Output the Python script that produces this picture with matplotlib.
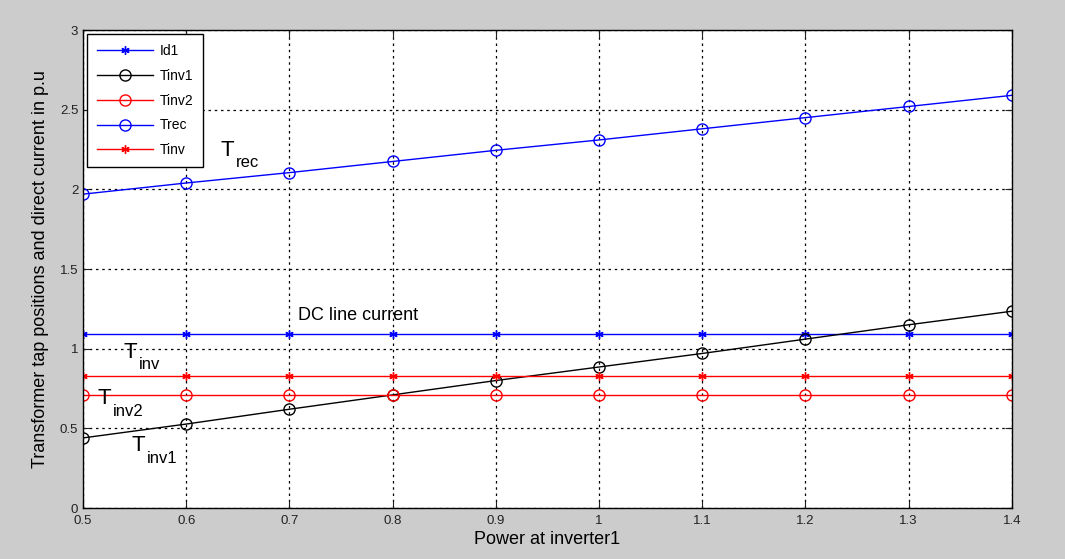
import matplotlib
matplotlib.use("Agg")
import matplotlib.pyplot as plt

power = [0.5, 0.6, 0.7, 0.8, 0.9, 1.0, 1.1, 1.2, 1.3, 1.4]
id1 = [1.09] * 10
tinv1 = [0.44, 0.527, 0.62, 0.71, 0.80, 0.885, 0.97, 1.06, 1.15, 1.235]
tinv2 = [0.71] * 10
trec = [1.97, 2.04, 2.105, 2.175, 2.245, 2.31, 2.38, 2.45, 2.52, 2.59]
tinv = [0.83] * 10

xticks = [0.5, 0.6, 0.7, 0.8, 0.9, 1.0, 1.1, 1.2, 1.3, 1.4]
xticklabels = ["0.5", "0.6", "0.7", "0.8", "0.9", "1", "1.1", "1.2", "1.3", "1.4"]
yticks = [0, 0.5, 1, 1.5, 2, 2.5, 3]
yticklabels = ["0", "0.5", "1", "1.5", "2", "2.5", "3"]

plt.rcParams['font.family'] = ['Liberation Sans', 'DejaVu Sans']

fig = plt.figure(figsize=(10.65, 5.59), dpi=100, facecolor='#cccccc')
ax = fig.add_axes([0.078, 0.0912, 0.872, 0.8551])
ax.set_facecolor('white')

blue = '#0000ff'
red = '#ff0000'
ms = 8
ast = (6, 2, 0)
ax.plot(power, id1, color=blue, marker=ast, markersize=6, lw=1, label='Id1')
ax.plot(power, tinv1, color='black', marker='o', markersize=ms, mfc='none', lw=1, label='Tinv1')
ax.plot(power, tinv2, color=red, marker='o', markersize=ms, mfc='none', lw=1, label='Tinv2')
ax.plot(power, trec, color=blue, marker='o', markersize=ms, mfc='none', lw=1, label='Trec')
ax.plot(power, tinv, color=red, marker=ast, markersize=6, lw=1, label='Tinv')

ax.set_xlim(0.5, 1.4)
ax.set_ylim(0, 3)
ax.set_xticks(xticks)
ax.set_xticklabels(xticklabels)
ax.set_yticks(yticks)
ax.set_yticklabels(yticklabels)
ax.tick_params(direction='in', labelsize=9.5, top=True, right=True, length=5, colors='#222222')
ax.tick_params(axis='x', pad=5)
ax.grid(True, linestyle=(0, (2, 3)), color='black', lw=0.9)
for s in ax.spines.values():
    s.set_linewidth(1)

ax.set_xlabel('Power at inverter1', fontsize=13, labelpad=3)
ax.set_ylabel('Transformer tap positions and direct current in p.u', fontsize=13, labelpad=8)


def sublabel(x, y, sub):
    ax.text(x, y, 'T', fontsize=16, va='baseline', ha='left')
    ax.annotate(sub, xy=(x, y), xytext=(11, -8), textcoords='offset points',
                fontsize=12, va='baseline', ha='left')


sublabel(0.633, 2.21, 'rec')
ax.text(0.708, 1.21, 'DC line current', fontsize=13, va='center', ha='left')
sublabel(0.539, 0.94, 'inv')
sublabel(0.514, 0.65, 'inv2')
sublabel(0.547, 0.355, 'inv1')

leg = ax.legend(loc='upper left', fontsize=10, fancybox=False, framealpha=1,
                edgecolor='black', borderaxespad=0.3, handlelength=4.0,
                handletextpad=0.5, labelspacing=0.78, borderpad=0.7)
leg.get_frame().set_linewidth(1)

fig.savefig('out.png', dpi=100, facecolor=fig.get_facecolor())
